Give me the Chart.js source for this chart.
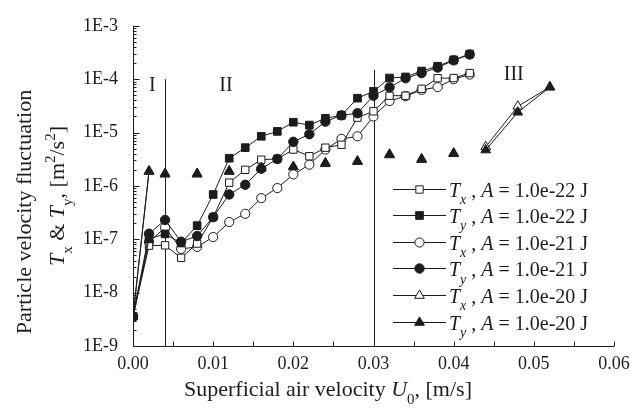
<!DOCTYPE html>
<html><head><meta charset="utf-8">
<script src="https://cdn.jsdelivr.net/npm/chart.js@4/dist/chart.umd.min.js"></script>
<style>html,body{margin:0;padding:0;background:#fff}#wrap{width:642px;height:412px;position:relative}</style>
</head><body><div id="wrap"><canvas id="c" width="642" height="412"></canvas></div>
<script>
// ---------- data ----------
const xTickLabels = ['0.00','0.01','0.02','0.03','0.04','0.05','0.06'];
const yTickLabels = ['1E-9','1E-8','1E-7','1E-6','1E-5','1E-4','1E-3'];

const u0A = [0,0.002,0.004,0.006,0.008,0.010,0.012,0.014,0.016,0.018,0.020,0.022,0.024,0.026,0.028,0.030,0.032,0.034,0.036,0.038,0.040,0.042];
const tx22 = [3.6e-9,7.6e-8,7.7e-8,4.5e-8,8.3e-8,2.6e-7,1.15e-6,2.0e-6,3.1e-6,3.2e-6,4.8e-6,3.6e-6,5.2e-6,5.9e-6,1.9e-5,2.5e-5,4.9e-5,4.9e-5,6.6e-5,1.04e-4,1.05e-4,1.3e-4];
const ty22 = [3.6e-9,1.02e-7,1.26e-7,8.5e-8,1.8e-7,6.9e-7,3.3e-6,5.2e-6,8.5e-6,1.05e-5,1.56e-5,1.38e-5,1.85e-5,2.1e-5,4.4e-5,5.9e-5,1.05e-4,1.1e-4,1.42e-4,1.75e-4,2.3e-4,2.95e-4];
const tx21 = [3.6e-9,8.9e-8,1.66e-7,6.6e-8,7.2e-8,1.1e-7,2.1e-7,3.0e-7,5.9e-7,9.1e-7,1.64e-6,2.5e-6,4.8e-6,7.6e-6,8.5e-6,2.0e-5,3.9e-5,4.8e-5,6.3e-5,7.1e-5,1.0e-4,1.22e-4];
const ty21 = [3.6e-9,1.27e-7,2.3e-7,9.0e-8,1.15e-7,2.6e-7,6.9e-7,1.05e-6,2.1e-6,3.2e-6,6.7e-6,9.3e-6,1.6e-5,2.1e-5,2.3e-5,4.9e-5,7.0e-5,1.04e-4,1.3e-4,1.65e-4,2.25e-4,2.9e-4];

const u0B = [0,0.002,0.004,0.008,0.012,0.016,0.020,0.024,0.028,0.032,0.036,0.040,0.044,0.048,0.052];
const tx20 = [3.6e-9,1.85e-6,1.65e-6,1.65e-6,1.85e-6,2.15e-6,2.25e-6,2.6e-6,2.85e-6,3.8e-6,3.1e-6,4.0e-6,5.4e-6,3.1e-5,7.1e-5];
const ty20 = [3.6e-9,1.9e-6,1.7e-6,1.7e-6,1.9e-6,2.2e-6,2.3e-6,2.7e-6,2.9e-6,3.9e-6,3.2e-6,4.1e-6,4.7e-6,2.4e-5,7.1e-5];

const seriesComp = ['x','y','x','y','x','y'];
const seriesA = ['1.0e-22','1.0e-22','1.0e-21','1.0e-21','1.0e-20','1.0e-20'];

const regionBounds = [0.004, 0.030];
const regionBoundTops = [1e-4, 1.5e-4];
const regionNames = ['I','II','III'];

// ---------- styling / layout ----------
const INK = '#1c1c1c';
const SERIF = '"Liberation Serif", "Times New Roman", serif';
const markers = [
  {style:'rect', r:5.2, fill:'#fff'},
  {style:'rect', r:5.4, fill:INK},
  {style:'circle', r:4.6, fill:'#fff'},
  {style:'circle', r:4.7, fill:INK},
  {style:'triangle', r:5.6, fill:'#fff'},
  {style:'triangle', r:5.6, fill:INK}
];
const pts = (xs, ys) => xs.map((x,i)=>({x, y: ys[i]}));
const hideMid = {borderColor: ctx => (ctx.p0.parsed.x > 0.001 && ctx.p0.parsed.x < 0.043) ? 'rgba(0,0,0,0)' : INK};

function ds(i, data, extra) {
  const m = markers[i];
  return Object.assign({
    data, showLine:true, borderColor:INK, borderWidth:1, tension:0,
    pointStyle:m.style, pointRadius:m.r, pointBackgroundColor:m.fill,
    pointBorderColor:INK, pointBorderWidth:1, fill:false
  }, extra||{});
}

function rich(ctx, parts, x, y, size, align) {
  const segs = parts.map(p => {
    const s = (p.sub||p.sup) ? Math.round(size*0.68) : size;
    const font = (p.i?'italic ':'') + s + 'px ' + SERIF;
    ctx.font = font;
    return {t:p.t, font, w:ctx.measureText(p.t).width, dy: p.sub ? size*0.36 : (p.sup ? -size*0.42 : 0)};
  });
  const total = segs.reduce((a,s)=>a+s.w,0);
  let cx = align==='center' ? x-total/2 : (align==='right' ? x-total : x);
  ctx.textAlign='left'; ctx.textBaseline='alphabetic';
  segs.forEach(s => { ctx.font=s.font; ctx.fillText(s.t, cx, y+s.dy); cx+=s.w; });
}

function marker(ctx, m, x, y, r) {
  ctx.beginPath();
  if (m.style==='rect') { const h=r*Math.SQRT1_2; ctx.rect(x-h,y-h,2*h,2*h); }
  else if (m.style==='circle') { ctx.arc(x,y,r,0,Math.PI*2); }
  else { const a=r; ctx.moveTo(x, y-a); ctx.lineTo(x+a*Math.sin(Math.PI/3), y+a*0.5); ctx.lineTo(x-a*Math.sin(Math.PI/3), y+a*0.5); ctx.closePath(); }
  ctx.fillStyle=m.fill; ctx.fill(); ctx.strokeStyle=INK; ctx.lineWidth=1; ctx.stroke();
}

const deco = {
  id:'deco',
  beforeDatasetsDraw(chart) {
    const {ctx, chartArea:a, scales:{x, y}} = chart;
    ctx.save(); ctx.strokeStyle=INK; ctx.lineWidth=1;
    regionBounds.forEach((b,i) => {
      const px = Math.round(x.getPixelForValue(b))+0.5;
      ctx.beginPath(); ctx.moveTo(px, y.getPixelForValue(regionBoundTops[i])); ctx.lineTo(px, a.bottom); ctx.stroke();
    });
    ctx.restore();
  },
  afterDraw(chart) {
    const {ctx, chartArea:a, scales:{x, y}} = chart;
    ctx.save();
    ctx.strokeStyle=INK; ctx.fillStyle=INK; ctx.lineWidth=1;
    const L = Math.round(a.left)+0.5, B = Math.round(a.bottom)+0.5;
    // axes
    ctx.beginPath(); ctx.moveTo(L, a.top); ctx.lineTo(L, B); ctx.lineTo(a.right, B); ctx.stroke();
    // x ticks (inward)
    for (let k=0;k<=12;k++){ const px=Math.round(x.getPixelForValue(k*0.005))+0.5; ctx.beginPath(); ctx.moveTo(px,B); ctx.lineTo(px,B-5); ctx.stroke(); }
    // y ticks (inward)
    for (let e=-9;e<=-3;e++){
      for (let m=1;m<=9;m++){
        if (e===-3 && m>1) break;
        const py=Math.round(y.getPixelForValue(m*Math.pow(10,e)))+0.5;
        const len = m===1 ? 6 : 3;
        ctx.beginPath(); ctx.moveTo(L,py); ctx.lineTo(L+len,py); ctx.stroke();
      }
    }
    // region labels
    const regX=[0.0024,0.0116,0.0475], regY=[7.6e-5,7.6e-5,1.2e-4];
    ctx.font='20px '+SERIF; ctx.textAlign='center'; ctx.textBaseline='middle';
    regionNames.forEach((n,i)=>ctx.fillText(n, x.getPixelForValue(regX[i]), y.getPixelForValue(regY[i])));
    // x title
    rich(ctx,[{t:'Superficial air velocity '},{t:'U',i:1},{t:'0',sub:1},{t:', [m/s]'}], 328, 396, 22, 'center');
    // y title
    ctx.save(); ctx.translate(31, 212); ctx.rotate(-Math.PI/2);
    rich(ctx,[{t:'Particle velocity fluctuation'}], 0, 0, 22, 'center');
    ctx.restore();
    ctx.save(); ctx.translate(64, 196); ctx.rotate(-Math.PI/2);
    rich(ctx,[{t:'T',i:1},{t:'x',sub:1},{t:' & '},{t:'T',i:1},{t:'y',sub:1},{t:', [m'},{t:'2',sup:1},{t:'/s'},{t:'2',sup:1},{t:']'}], 0, 0, 22, 'center');
    ctx.restore();
    // legend
    const rowY0=188.5, rowH=26.6, lx0=393, lx1=446, tx=449;
    seriesComp.forEach((c,i)=>{
      const cy=rowY0+i*rowH;
      ctx.strokeStyle=INK; ctx.lineWidth=1;
      ctx.beginPath(); ctx.moveTo(lx0,Math.round(cy)+0.5); ctx.lineTo(lx1,Math.round(cy)+0.5); ctx.stroke();
      marker(ctx, markers[i], (lx0+lx1)/2, Math.round(cy)+0.5, markers[i].r);
      ctx.fillStyle=INK;
      rich(ctx,[{t:'T',i:1},{t:c,i:1,sub:1},{t:' , '},{t:'A',i:1},{t:' = '+seriesA[i]+' J'}], tx, cy+8, 20, 'left');
    });
    ctx.restore();
  }
};

new Chart(document.getElementById('c'), {
  type:'scatter',
  data:{ datasets:[
    ds(0, pts(u0A, tx22), {order:3}),
    ds(1, pts(u0A, ty22), {order:0}),
    ds(2, pts(u0A, tx21), {order:4}),
    ds(3, pts(u0A, ty21), {order:1}),
    ds(4, pts(u0B, tx20), {order:5, segment:hideMid}),
    ds(5, pts(u0B, ty20), {order:2, segment:hideMid})
  ]},
  options:{
    responsive:false, animation:false, devicePixelRatio:1,
    layout:{padding:{left:0, right:28, top:18, bottom:0}},
    plugins:{legend:{display:false}, tooltip:{enabled:false}},
    scales:{
      x:{ type:'linear', min:0, max:0.06,
          afterFit: s => { s.height = 66; },
          grid:{display:false, drawTicks:false}, border:{display:false},
          ticks:{ stepSize:0.01, padding:7, color:INK, font:{family:SERIF, size:18},
                  maxRotation:0, autoSkip:false,
                  callback:(v,i)=>xTickLabels[i] } },
      y:{ type:'logarithmic', min:1e-9, max:1e-3,
          afterFit: s => { s.width = 133; },
          grid:{display:false, drawTicks:false}, border:{display:false},
          ticks:{ padding:15, color:INK, font:{family:SERIF, size:18}, autoSkip:false,
                  callback:(v)=>{ const l=Math.log10(v); const r=Math.round(l); return Math.abs(l-r)<1e-6 ? yTickLabels[r+9] : ''; } } }
    }
  },
  plugins:[deco]
});
</script>
</body></html>
